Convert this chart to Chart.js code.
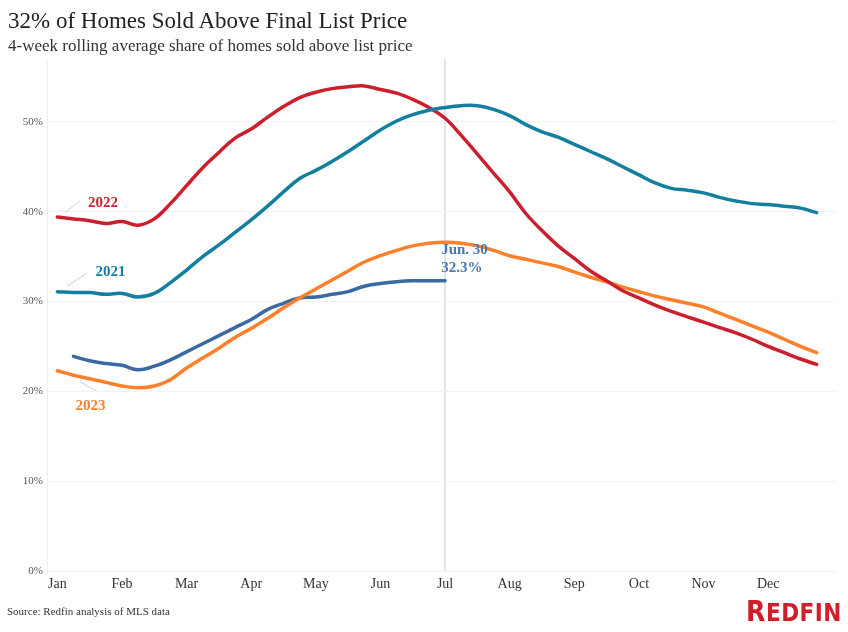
<!DOCTYPE html>
<html>
<head>
<meta charset="utf-8">
<script src="https://cdn.jsdelivr.net/npm/chart.js@4.4.0/dist/chart.umd.min.js"></script>
<style>
  body { margin: 0; background: #fff; }
  #wrap { position: relative; width: 848px; height: 632px; }
  #chart { position: absolute; left: 0; top: 0; }
  .txt { position: absolute; font-family: "Liberation Serif", "Times New Roman", serif; white-space: nowrap; }
  #title { left: 8px; top: 8px; font-size: 23px; color: #222; line-height: 26px; }
  #subtitle { left: 8px; top: 36px; font-size: 17px; color: #333; line-height: 20px; }
  #source { left: 7px; top: 604px; font-size: 11px; color: #333; line-height: 14px; }
  #logo { position: absolute; left: 746px; top: 598px; color: #d01f2b; font-weight: bold;
          font-family: "Liberation Sans Narrow", "DejaVu Sans Condensed", "DejaVu Sans", sans-serif;
          font-stretch: condensed; font-size: 24px; line-height: 28px; letter-spacing: 0.5px; }
  #logo span { font-size: 28px; }
</style>
</head>
<body>
<div id="wrap">
  <canvas id="chart" width="848" height="632"></canvas>
  <div class="txt" id="title">32% of Homes Sold Above Final List Price</div>
  <div class="txt" id="subtitle">4-week rolling average share of homes sold above list price</div>
  <div class="txt" id="source">Source: Redfin analysis of MLS data</div>
  <div id="logo"><span>R</span>EDFIN</div>
</div>
<script>
// Month labels and x positions (months since Jan 1, quarter-month steps)
const months = ['Jan', 'Feb', 'Mar', 'Apr', 'May', 'Jun', 'Jul', 'Aug', 'Sep', 'Oct', 'Nov', 'Dec'];
const gridMonths = [
  0, 0.25, 0.5, 0.75, 1, 1.25, 1.5, 1.75, 2, 2.25, 2.5, 2.75,
  3, 3.25, 3.5, 3.75, 4, 4.25, 4.5, 4.75, 5, 5.25, 5.5, 5.75,
  6, 6.25, 6.5, 6.75, 7, 7.25, 7.5, 7.75, 8, 8.25, 8.5, 8.75,
  9, 9.25, 9.5, 9.75, 10, 10.25, 10.5, 10.75, 11, 11.25, 11.5, 11.75
];
const yTicks = [0, 10, 20, 30, 40, 50];

// Share of homes sold above list price (%)
const share2022 = [
  39.4, 39.2, 39.0, 38.7, 38.9, 38.5, 39.2, 40.9, 42.9, 44.9, 46.6, 48.2,
  49.2, 50.5, 51.7, 52.7, 53.3, 53.7, 53.9, 54.0, 53.6, 53.2, 52.5, 51.6,
  50.4, 48.5, 46.4, 44.3, 42.2, 39.8, 37.9, 36.2, 34.8, 33.4, 32.3, 31.2,
  30.4, 29.6, 28.9, 28.3, 27.7, 27.1, 26.5, 25.8, 25.0, 24.3, 23.6, 23.0
];
const share2021 = [
  31.1, 31.0, 31.0, 30.8, 30.9, 30.5, 30.9, 32.1, 33.5, 35.0, 36.3, 37.7,
  39.1, 40.6, 42.2, 43.7, 44.6, 45.6, 46.7, 47.9, 49.1, 50.1, 50.8, 51.3,
  51.6, 51.8, 51.8, 51.4, 50.7, 49.7, 48.9, 48.3, 47.5, 46.7, 45.9, 45.0,
  44.1, 43.2, 42.6, 42.4, 42.1, 41.6, 41.2, 40.9, 40.8, 40.6, 40.4, 39.9
];
const share2023 = [
  22.3, 21.8, 21.4, 21.0, 20.6, 20.4, 20.6, 21.3, 22.6, 23.7, 24.8, 26.0,
  27.0, 28.1, 29.3, 30.4, 31.4, 32.4, 33.4, 34.4, 35.1, 35.7, 36.2, 36.5,
  36.6, 36.5, 36.2, 35.7, 35.1, 34.7, 34.3, 33.9, 33.3, 32.7, 32.2, 31.6,
  31.1, 30.6, 30.2, 29.8, 29.4, 28.7, 28.0, 27.3, 26.6, 25.8, 25.0, 24.3
];
const share2024 = [
  null, 23.9, 23.4, 23.1, 22.9, 22.4, 22.8, 23.5, 24.4, 25.3, 26.2, 27.1,
  28.0, 29.1, 29.8, 30.4, 30.5, 30.8, 31.1, 31.7, 32.0, 32.2, 32.3, 32.3,
  32.3
];

const serif = '"Liberation Serif", "Times New Roman", serif';

function toPoints(values) {
  const pts = [];
  values.forEach((v, i) => {
    if (v !== null) pts.push({ x: gridMonths[i], y: v });
  });
  return pts;
}

function series(label, values, color) {
  return {
    label: label,
    data: toPoints(values),
    borderColor: color,
    backgroundColor: color,
    borderWidth: 3.5,
    pointRadius: 0,
    tension: 0.4,
    borderCapStyle: 'round',
    fill: false
  };
}

// Year labels, leader lines and the Jun. 30 callout, placed in data space
const annotations = {
  id: 'annotations',
  afterDatasetsDraw(chart) {
    const ctx = chart.ctx;
    const xs = chart.scales.x;
    const ys = chart.scales.y;
    const px = (m) => xs.getPixelForValue(m);
    const py = (v) => ys.getPixelForValue(v);

    const leaders = [
      [0.12, 39.9, 0.35, 41.2],
      [0.15, 31.7, 0.46, 33.2],
      [0.35, 21.1, 0.61, 20.0]
    ];
    ctx.save();
    ctx.strokeStyle = '#cfcfcf';
    ctx.lineWidth = 1;
    leaders.forEach(l => {
      ctx.beginPath();
      ctx.moveTo(px(l[0]), py(l[1]));
      ctx.lineTo(px(l[2]), py(l[3]));
      ctx.stroke();
    });

    const labels = [
      ['2022', '#cc1f2e', 0.475, 41.0],
      ['2021', '#137f9e', 0.59, 33.3],
      ['2023', '#ff7f2a', 0.28, 18.3],
      ['Jun. 30', '#4a78a8', 5.94, 35.7],
      ['32.3%', '#4a78a8', 5.94, 33.7]
    ];
    ctx.font = 'bold 15px ' + serif;
    ctx.textAlign = 'left';
    ctx.textBaseline = 'middle';
    labels.forEach(l => {
      ctx.fillStyle = l[1];
      ctx.fillText(l[0], px(l[2]), py(l[3]));
    });
    ctx.restore();
  }
};

new Chart(document.getElementById('chart'), {
  type: 'line',
  data: {
    datasets: [
      series('2021', share2021, '#137f9e'),
      series('2022', share2022, '#cc1f2e'),
      series('2023', share2023, '#ff7f2a'),
      series('2024', share2024, '#3b6aa0')
    ]
  },
  options: {
    responsive: false,
    animation: false,
    layout: { padding: { top: 59, right: 12, bottom: 31, left: 0 } },
    plugins: {
      legend: { display: false },
      tooltip: { enabled: false }
    },
    scales: {
      x: {
        type: 'linear',
        min: -0.16,
        max: 12.05,
        afterBuildTicks: (scale) => { scale.ticks = months.map((m, i) => ({ value: i })); },
        afterFit: (scale) => { scale.height = 30; },
        ticks: {
          autoSkip: false,
          maxRotation: 0,
          padding: 5,
          color: '#333',
          font: { family: serif, size: 14 },
          callback: (value) => months[value]
        },
        grid: {
          drawTicks: false,
          lineWidth: 2,
          color: (c) => (c.tick && c.tick.value === 6 ? '#e4e4e4' : 'rgba(0,0,0,0)')
        },
        border: { display: false }
      },
      y: {
        min: 0,
        max: 57,
        afterBuildTicks: (scale) => { scale.ticks = yTicks.map(v => ({ value: v })); },
        afterFit: (scale) => { scale.width = 47; },
        ticks: {
          padding: 4,
          color: '#555',
          font: { family: serif, size: 11 },
          callback: (value) => value + '%'
        },
        grid: { drawTicks: false, color: '#f2f2f2', lineWidth: 1 },
        border: { display: true, color: '#ededed' }
      }
    }
  },
  plugins: [annotations]
});
</script>
</body>
</html>
